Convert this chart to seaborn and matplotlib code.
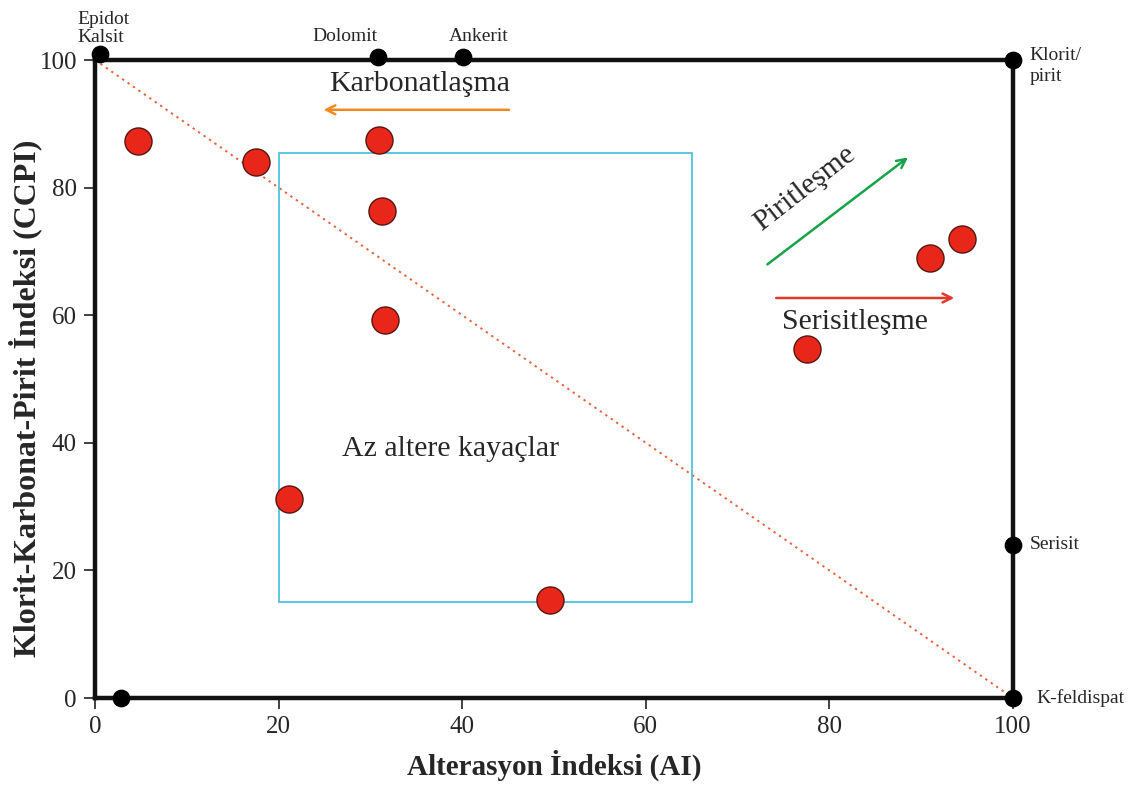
import pandas as pd
import matplotlib.pyplot as plt
import seaborn as sns
from matplotlib.patches import Rectangle

# Örnek noktaları (AI, CCPI)
ai_values = [4.7, 17.5, 30.9, 31.3, 31.6, 21.1, 49.6, 77.6, 91.0, 94.4]
ccpi_values = [87.3, 84.0, 87.5, 76.3, 59.2, 31.2, 15.4, 54.7, 69.0, 71.9]

# Mineral uç noktaları
mineral_names = ['Epidot\nKalsit', 'Dolomit', 'Ankerit', 'Klorit/\npirit', 'Serisit', 'K-feldispat', '']
mineral_ai = [0.5, 30.8, 40.1, 100, 100, 100, 2.8]
mineral_ccpi = [101, 100.5, 100.5, 100, 24, 0, 0]

# Az altere kayaçlar kutusu
box_ai = [20, 65]
box_ccpi = [15, 85.4]

ticks = [0, 20, 40, 60, 80, 100]

df = pd.DataFrame({'AI': ai_values, 'CCPI': ccpi_values})
df_min = pd.DataFrame({'AI': mineral_ai, 'CCPI': mineral_ccpi, 'Ad': mineral_names})

sns.set_style('white')
plt.rcParams['font.family'] = ['Liberation Serif', 'DejaVu Serif']

fig = plt.figure(figsize=(11.34, 7.96), dpi=100)
ax = fig.add_axes([0.0838, 0.1231, 0.8095, 0.8015])

# Diagonal
ax.plot([0, 100], [100, 0], color='#e8623a', linestyle=(0, (1.2, 2.2)), lw=1.4, zorder=1)

# Kutu
ax.add_patch(Rectangle((box_ai[0], box_ccpi[0]), box_ai[1] - box_ai[0], box_ccpi[1] - box_ccpi[0],
                       fill=False, edgecolor='#4fc3dc', lw=1.3, zorder=1))

sns.scatterplot(data=df_min, x='AI', y='CCPI', color='black', s=140, edgecolor='black',
                ax=ax, clip_on=False, zorder=5)
sns.scatterplot(data=df, x='AI', y='CCPI', color='#e8271a', s=380, edgecolor='#5a1510',
                linewidth=1.0, ax=ax, clip_on=False, zorder=6)

ax.set_xlim(0, 100)
ax.set_ylim(0, 100)
ax.set_xticks(ticks)
ax.set_yticks(ticks)
ax.tick_params(axis='both', labelsize=18, length=8, width=1.3, color='#333333', direction='out',
               bottom=True, left=True, pad=5)
for s in ax.spines.values():
    s.set_linewidth(3.2)
    s.set_color('#111111')

ax.set_xlabel('Alterasyon İndeksi (AI)', fontsize=21, fontweight='bold', labelpad=8)
ax.set_ylabel('Klorit-Karbonat-Pirit İndeksi (CCPI)', fontsize=23, fontweight='bold')
ax.yaxis.set_label_coords(-0.058, 0.47)

# Mineral etiketleri
ax.text(-1.9, 102.2, 'Epidot\nKalsit', fontsize=14, ha='left', va='bottom', linespacing=1.05)
ax.text(27.2, 102.3, 'Dolomit', fontsize=14, ha='center', va='bottom')
ax.text(41.8, 102.3, 'Ankerit', fontsize=14, ha='center', va='bottom')
ax.text(101.8, 102.0, 'Klorit/\npirit', fontsize=14, ha='left', va='top', linespacing=1.25)
ax.text(101.8, 24, 'Serisit', fontsize=14, ha='left', va='center')
ax.text(102.5, 0, 'K-feldispat', fontsize=14, ha='left', va='center')

# Oklar ve açıklamalar
ax.annotate('', xy=(24.6, 92.2), xytext=(45.4, 92.2),
            arrowprops=dict(arrowstyle='->', color='#f08a1c', lw=1.8, mutation_scale=16))
ax.text(35.4, 96.2, 'Karbonatlaşma', fontsize=21.5, ha='center', va='center')

ax.annotate('', xy=(88.8, 85.0), xytext=(73.0, 67.7),
            arrowprops=dict(arrowstyle='->', color='#16a34a', lw=1.8, mutation_scale=16))
ax.text(77.3, 79.8, 'Piritleşme', fontsize=21.5, ha='center', va='center', rotation=38)

ax.annotate('', xy=(93.9, 62.7), xytext=(73.9, 62.7),
            arrowprops=dict(arrowstyle='->', color='#e0392b', lw=1.8, mutation_scale=16))
ax.text(82.8, 59.0, 'Serisitleşme', fontsize=21.5, ha='center', va='center')

ax.text(38.7, 39.0, 'Az altere kayaçlar', fontsize=21.5, ha='center', va='center')

plt.savefig('out.png', dpi=100)
